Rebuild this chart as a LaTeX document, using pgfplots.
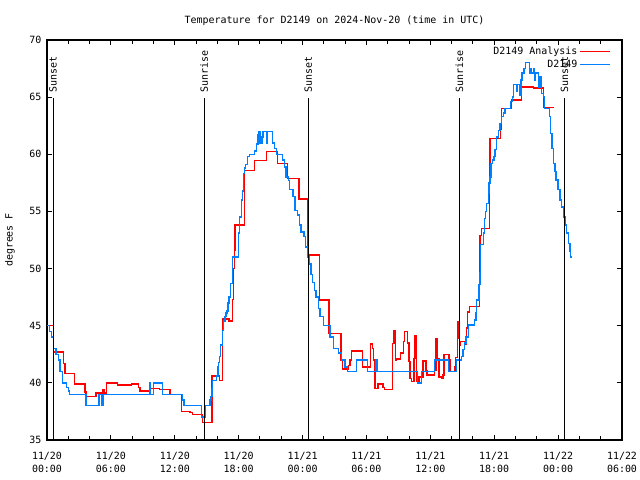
\documentclass[border=0pt]{standalone}
\usepackage{pgfplots}
\pgfplotsset{compat=1.18}
\usepackage{fontspec}
\setmainfont{DejaVu Sans Mono}
\setmonofont{DejaVu Sans Mono}
\definecolor{gpred}{RGB}{255,0,0}
\definecolor{gpblue}{RGB}{0,128,255}
\begin{document}
\fontsize{10}{12}\selectfont
\begin{tikzpicture}
\useasboundingbox (-47bp,-40bp) rectangle (593bp,440bp);
\begin{axis}[
  at={(0,0)}, anchor=south west,
  width=575bp, height=400bp, scale only axis,
  xmin=0, xmax=54, ymin=35, ymax=70,
  xtick={0,6,12,18,24,30,36,42,48,54},
  xticklabels={{11/20\\00:00},{11/20\\06:00},{11/20\\12:00},{11/20\\18:00},{11/21\\00:00},{11/21\\06:00},{11/21\\12:00},{11/21\\18:00},{11/22\\00:00},{11/22\\06:00}},
  minor x tick num=2,
  ytick={35,40,45,50,55,60,65,70},
  tick align=inside,
  major tick length=5bp, minor tick length=4bp,
  every tick/.style={black, line width=1bp},
  axis line style={black, line width=1.1bp},
  /pgf/number format/assume math mode=true,
  xticklabel style={align=center, font=\fontsize{10}{13}\selectfont, yshift=-9bp},
  yticklabel style={font=\fontsize{10}{12}\selectfont, xshift=-2bp},
  title={Temperature for D2149 on 2024-Nov-20 (time in UTC)},
  title style={at={(0.5,1)}, anchor=base, yshift=11bp, font=\fontsize{10}{12}\selectfont},
  ylabel={degrees F},
  ylabel style={at={(axis description cs:-0.0643,0.5)}, anchor=center, font=\fontsize{10}{12}\selectfont},
  legend plot pos=right,
  legend cell align=right,
  legend style={draw=none, fill=none, at={(1,1)}, anchor=north east, xshift=-9bp, yshift=-3bp,
    font=\fontsize{10}{12}\selectfont, row sep=0bp, inner sep=2bp},
  legend image code/.code={\draw[#1] (0bp,0bp) -- (30bp,0bp);},
  clip=true,
]
\addplot[gpred, line width=1.4bp, const plot] coordinates {
(0,45.0) (0.6,42.7) (1.53,41.7) (1.69,40.8) (2.57,39.9) (3.57,39.2) (3.65,38.8)
(4.6,39.1) (5.2,39.4) (5.35,39.1) (5.6,40.0) (6.64,39.8) (7.95,39.9) (8.58,39.6)
(8.73,39.3) (9.67,39.5) (10.55,39.4) (11.55,39.0) (12.65,37.5) (13.43,37.4)
(13.65,37.25) (14.6,36.55) (15.5,40.6) (16.2,40.2) (16.5,45.6) (17.1,45.4)
(17.4,47.3) (17.5,50.0) (17.6,51.6) (17.66,53.8) (18.53,58.56) (19.47,59.46)
(20.6,60.26) (21.63,59.2) (22.57,57.9) (23.67,56.1) (24.48,51.2) (25.6,47.25)
(26.5,44.3) (27.6,42.0) (27.74,41.2) (28.3,41.5) (28.46,42.0) (28.6,42.8)
(29.64,41.4) (30.4,43.4) (30.55,43.0) (30.65,42.0) (30.8,39.5) (31.1,39.9)
(31.57,39.6) (31.7,39.4) (32.46,43.46) (32.6,44.6) (32.75,42.0) (32.84,42.1)
(33.2,42.6) (33.46,43.6) (33.6,44.5) (33.84,43.5) (34.0,41.85) (34.09,40.4)
(34.25,40.1) (34.45,42.15) (34.55,44.1) (34.7,40.1) (34.95,40.5) (35.3,41.9)
(35.6,41.1) (35.7,40.7) (36.38,41.1) (36.55,43.9) (36.69,42.15) (36.8,40.5)
(37.06,40.4) (37.2,40.7) (37.3,42.5) (37.75,42.0) (37.84,41.0) (38.3,41.4)
(38.36,42.2) (38.55,43.9) (38.6,45.35) (38.7,44.3) (38.75,43.3) (38.85,43.6)
(39.3,43.4) (39.4,44.8) (39.5,46.2) (39.66,46.7) (40.6,50.45) (40.67,52.9)
(40.8,53.5) (41.54,58.6) (41.6,61.4) (42.6,62.2) (42.7,64.0) (43.64,64.75)
(44.58,65.9) (45.67,65.8) (46.6,64.1) (47.6,64.1)
};
\addlegendentry{D2149 Analysis}
\addplot[gpblue, line width=1.4bp, const plot] coordinates {
(0,45.0) (0.22,44.5) (0.44,44.0) (0.6,43.0) (0.85,42.5) (1.06,42.0) (1.22,41.0)
(1.47,40.0) (1.85,39.6) (2.0,39.3) (2.1,39.0) (3.66,38.0) (4.9,39.0) (5.15,38.0)
(5.3,39.0) (9.6,40.0) (9.68,39.0) (10.0,40.0) (10.87,39.0) (12.74,38.5)
(12.85,38.0) (14.5,37.0) (14.9,38.0) (15.3,38.5) (15.4,38.8) (15.5,39.5)
(15.55,40.2) (15.94,40.6) (16.05,41.4) (16.1,41.8) (16.2,42.3) (16.3,43.3)
(16.5,44.6) (16.6,45.4) (16.7,45.8) (16.8,46.1) (16.9,46.3) (17.0,47.0)
(17.1,47.5) (17.25,48.7) (17.4,51.0) (17.97,53.1) (18.1,54.5) (18.25,56.0)
(18.35,56.8) (18.45,58.3) (18.55,58.8) (18.65,59.1) (18.85,59.8) (19.0,60.0)
(19.5,60.3) (19.65,60.9) (19.8,61.7) (19.9,62.0) (20.0,61.0) (20.2,61.5)
(20.3,62.0) (20.6,61.0) (20.7,62.0) (21.2,61.0) (21.35,60.5) (21.55,60.0)
(22.1,59.5) (22.3,58.9) (22.45,58.0) (22.7,57.7) (22.8,56.9) (23.1,56.3)
(23.3,55.1) (23.55,54.7) (23.7,53.8) (23.85,53.2) (24.15,52.8) (24.3,51.9)
(24.48,51.0) (24.65,50.4) (24.8,49.5) (24.95,48.8) (25.1,48.1) (25.26,47.5)
(25.48,46.5) (25.64,45.8) (25.95,45.0) (26.58,44.0) (26.9,43.0) (27.36,42.6)
(27.67,42.0) (27.99,41.4) (28.24,41.0) (29.08,42.0) (30.1,41.0) (30.9,42.0)
(31.0,41.0) (34.8,40.0) (35.19,41.0) (36.4,42.0) (37.7,41.0) (38.47,42.0)
(38.9,42.3) (39.06,42.9) (39.2,43.5) (39.35,44.0) (39.57,45.06) (40.13,45.5)
(40.3,46.1) (40.35,47.25) (40.56,48.6) (40.66,49.6) (40.73,52.1) (40.98,53.1)
(41.07,54.4) (41.2,55.0) (41.3,55.7) (41.45,56.6) (41.5,57.5) (41.6,58.0)
(41.7,59.2) (41.85,59.5) (41.98,59.8) (42.07,60.4) (42.23,61.5) (42.4,62.1)
(42.54,62.7) (42.7,63.3) (42.85,63.6) (43.0,64.0) (43.54,64.6) (43.7,65.0)
(43.8,66.1) (44.1,65.5) (44.17,66.1) (44.4,65.2) (44.5,66.5) (44.6,67.1)
(44.8,67.5) (44.96,68.05) (45.3,67.1) (45.4,67.5) (45.5,67.1) (45.67,67.5)
(45.76,66.5) (45.9,67.1) (46.15,65.9) (46.3,66.8) (46.45,65.3) (46.6,65.0)
(46.7,64.0) (47.2,63.3) (47.3,61.8) (47.43,60.5) (47.55,59.2) (47.7,58.5)
(47.8,57.75) (48.0,56.9) (48.18,56.0) (48.34,55.4) (48.49,54.5) (48.65,53.8)
(48.8,53.1) (48.96,52.2) (49.1,51.5) (49.18,51.0) (49.25,51.0)
};
\addlegendentry{D2149}
\addplot[black, line width=1.1bp, forget plot] coordinates {(0.57,35) (0.57,64.9)};
\addplot[black, line width=1.1bp, forget plot] coordinates {(14.77,35) (14.77,64.9)};
\addplot[black, line width=1.1bp, forget plot] coordinates {(24.54,35) (24.54,64.9)};
\addplot[black, line width=1.1bp, forget plot] coordinates {(38.72,35) (38.72,64.9)};
\addplot[black, line width=1.1bp, forget plot] coordinates {(48.59,35) (48.59,64.9)};
\node[rotate=90, anchor=west, inner sep=0pt] at (axis cs:0.57,65.4) {Sunset};
\node[rotate=90, anchor=west, inner sep=0pt] at (axis cs:14.77,65.4) {Sunrise};
\node[rotate=90, anchor=west, inner sep=0pt] at (axis cs:24.54,65.4) {Sunset};
\node[rotate=90, anchor=west, inner sep=0pt] at (axis cs:38.72,65.4) {Sunrise};
\node[rotate=90, anchor=west, inner sep=0pt] at (axis cs:48.59,65.4) {Sunset};
\end{axis}
\end{tikzpicture}
\end{document}
